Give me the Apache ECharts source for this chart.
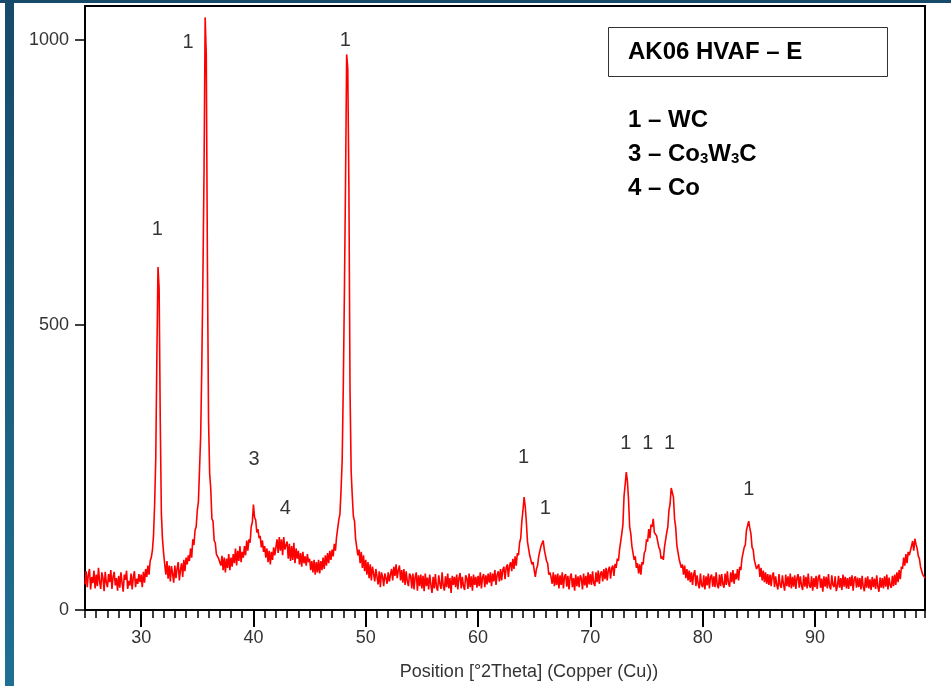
<!DOCTYPE html>
<html>
<head>
<meta charset="utf-8">
<title>AK06 HVAF – E</title>
<script src="https://cdn.jsdelivr.net/npm/echarts@6/dist/echarts.min.js"></script>
<style>
  html, body { margin: 0; padding: 0; background: #fff; }
  #chart { width: 951px; height: 686px; }
</style>
</head>
<body>
<div id="chart"></div>
<script>
// scan: 25.0 .. 99.8 °2θ, step 0.1
const scanStart = 25.0;
const scanStep = 0.1;

// counts, one row per degree
const counts = [
  45, 68, 40, 63, 72, 36, 58, 47, 69, 38,          // 25
  62, 42, 74, 50, 37, 66, 56, 33, 67, 48,          // 26
  40, 63, 49, 70, 37, 58, 67, 43, 56, 34,          // 27
  60, 39, 66, 48, 32, 62, 53, 69, 37, 51,          // 28
  43, 64, 36, 58, 68, 40, 55, 46, 63, 49,          // 29
  62, 40, 67, 48, 72, 58, 78, 62, 86, 92,          // 30
  104, 130, 185, 265, 445, 602, 565, 335, 170, 124, // 31
  100, 80, 62, 86, 55, 78, 50, 77, 64, 48,         // 32
  78, 56, 72, 84, 52, 70, 82, 58, 88, 68,          // 33
  92, 80, 96, 86, 108, 92, 124, 114, 140, 146,     // 34
  175, 190, 248, 305, 428, 585, 770, 1040, 972, 612, // 35
  335, 240, 212, 160, 156, 122, 118, 98, 100, 90,  // 36
  90, 78, 95, 70, 92, 66, 90, 74, 98, 70,          // 37
  92, 76, 98, 82, 108, 78, 104, 86, 112, 84,       // 38
  102, 92, 112, 96, 122, 104, 124, 118, 146, 154,  // 39
  185, 162, 158, 136, 142, 126, 130, 110, 122, 102, // 40
  112, 92, 108, 84, 104, 80, 102, 88, 110, 96,     // 41
  98, 124, 100, 128, 104, 124, 96, 128, 106, 114,  // 42
  120, 90, 116, 86, 112, 88, 118, 82, 108, 90,     // 43
  104, 80, 100, 76, 102, 82, 94, 78, 98, 84,       // 44
  90, 70, 86, 66, 88, 62, 84, 66, 88, 64,          // 45
  86, 70, 92, 72, 96, 78, 100, 82, 104, 88,        // 46
  106, 94, 116, 104, 128, 128, 158, 168, 210, 262, // 47
  392, 558, 752, 975, 950, 740, 385, 244, 200, 164, // 48
  156, 124, 124, 96, 106, 82, 102, 74, 96, 68,     // 49
  88, 62, 84, 56, 80, 52, 76, 64, 50, 72,          // 50
  70, 45, 68, 40, 66, 58, 42, 64, 56, 46,          // 51
  66, 50, 62, 72, 52, 76, 60, 80, 56, 70,          // 52
  78, 52, 70, 48, 72, 44, 68, 50, 42, 64,          // 53
  60, 38, 64, 36, 58, 66, 34, 61, 42, 62,          // 54
  38, 60, 33, 64, 42, 57, 36, 62, 44, 30,          // 55
  58, 38, 63, 40, 34, 61, 46, 37, 66, 42,          // 56
  34, 59, 40, 64, 38, 56, 30, 60, 44, 58,          // 57
  40, 62, 36, 56, 65, 38, 58, 42, 35, 61,          // 58
  56, 37, 64, 40, 59, 34, 62, 44, 58, 39,          // 59
  60, 42, 66, 38, 58, 63, 40, 61, 45, 64,          // 60
  48, 66, 42, 64, 50, 70, 44, 62, 68, 50,          // 61
  72, 52, 70, 76, 54, 74, 80, 58, 78, 84,          // 62
  68, 90, 72, 94, 78, 100, 96, 118, 126, 156,      // 63
  175, 198, 182, 155, 120, 118, 96, 98, 80, 84,    // 64
  70, 58, 72, 78, 94, 94, 112, 110, 122, 106,      // 65
  106, 86, 82, 62, 66, 58, 46, 66, 42, 62,         // 66
  44, 64, 38, 61, 44, 66, 38, 59, 63, 41,          // 67
  60, 36, 58, 64, 40, 56, 34, 62, 42, 59,          // 68
  40, 61, 56, 36, 64, 43, 60, 39, 66, 45,          // 69
  63, 44, 68, 47, 42, 66, 49, 69, 46, 64,          // 70
  68, 50, 72, 54, 74, 52, 70, 76, 55, 73,          // 71
  78, 60, 81, 74, 90, 86, 106, 106, 134, 150,      // 72
  200, 220, 242, 226, 194, 146, 134, 112, 110, 88, // 73
  94, 74, 82, 64, 80, 62, 84, 80, 100, 104,        // 74
  124, 120, 142, 126, 150, 146, 160, 136, 138, 130, // 75
  130, 110, 106, 90, 94, 88, 110, 112, 136, 146,   // 76
  175, 186, 214, 212, 198, 160, 145, 114, 112, 90, // 77
  92, 74, 80, 62, 78, 56, 72, 52, 69, 49,          // 78
  66, 44, 63, 70, 42, 61, 46, 38, 64, 44,          // 79
  40, 61, 36, 59, 43, 64, 38, 58, 62, 41,          // 80
  59, 40, 66, 44, 38, 62, 42, 63, 45, 39,          // 81
  64, 44, 68, 47, 41, 66, 49, 70, 46, 64,          // 82
  54, 72, 52, 76, 70, 90, 88, 110, 114, 140,       // 83
  142, 156, 144, 134, 110, 106, 88, 90, 72, 76,    // 84
  80, 58, 74, 52, 69, 49, 66, 46, 63, 44,          // 85
  62, 42, 60, 66, 40, 59, 44, 36, 63, 43,          // 86
  39, 61, 45, 34, 62, 42, 59, 40, 64, 38,          // 87
  58, 41, 61, 37, 56, 63, 39, 59, 43, 35,          // 88
  61, 41, 58, 38, 64, 43, 39, 59, 34, 56,          // 89
  40, 60, 37, 57, 62, 39, 55, 32, 59, 41,          // 90
  58, 38, 63, 42, 36, 61, 44, 40, 59, 33,          // 91
  42, 60, 39, 56, 35, 62, 41, 58, 38, 56,          // 92
  37, 58, 42, 61, 34, 55, 59, 39, 57, 40,          // 93
  56, 36, 60, 41, 33, 57, 39, 59, 38, 54,          // 94
  35, 58, 40, 55, 37, 61, 41, 32, 57, 39,          // 95
  56, 38, 59, 41, 62, 36, 57, 43, 39, 60,          // 96
  42, 62, 44, 66, 49, 70, 54, 76, 72, 92,          // 97
  78, 98, 82, 102, 96, 104, 102, 121, 104, 125,    // 98
  115, 108, 95, 90, 76, 76, 62, 64, 56             // 99
];

// axis ticks
const xMajorTicks = [30, 40, 50, 60, 70, 80, 90];
const yTicks = [0, 500, 1000];

// phase markers above the peaks
const peakLabelX = [31.45, 34.18, 48.17, 40.06, 42.83, 64.05, 66.0, 73.15, 75.12, 77.05, 84.12];
const peakLabelY = [667, 996, 1000, 265, 179, 267, 179, 293, 293, 293, 211];
const peakLabelText = ['1', '1', '1', '3', '4', '1', '1', '1', '1', '1', '1'];

const fontFamily = '"Liberation Sans", Arial, sans-serif';

const points = counts.map((c, i) => [+(scanStart + i * scanStep).toFixed(1), c]);

const chart = echarts.init(document.getElementById('chart'));

const option = {
  animation: false,
  textStyle: { fontFamily: fontFamily },
  grid: {
    left: 85,
    right: 26,
    top: 6,
    bottom: 75,
    show: true,
    borderColor: '#000',
    borderWidth: 2
  },
  xAxis: [
    {
      type: 'value',
      min: 25,
      max: 99.8,
      interval: 1,
      position: 'bottom',
      axisLine: { lineStyle: { color: '#000', width: 2 } },
      axisTick: { length: 8, lineStyle: { color: '#000', width: 1.5 } },
      axisLabel: { show: false },
      splitLine: { show: false }
    },
    {
      type: 'value',
      min: 25,
      max: 99.8,
      position: 'bottom',
      axisLine: { show: false },
      axisTick: {
        show: true,
        customValues: xMajorTicks,
        length: 17,
        lineStyle: { color: '#000', width: 2 }
      },
      axisLabel: {
        customValues: xMajorTicks,
        margin: 19,
        fontSize: 18,
        color: '#333',
        fontFamily: fontFamily
      },
      splitLine: { show: false },
      name: 'Position [°2Theta] (Copper (Cu))',
      nameLocation: 'middle',
      nameGap: 53,
      nameTextStyle: {
        fontSize: 18,
        color: '#333',
        fontFamily: fontFamily,
        padding: [0, 0, 0, 48]
      }
    }
  ],
  yAxis: {
    type: 'value',
    min: 0,
    max: 1060,
    axisLine: { show: true, lineStyle: { color: '#000', width: 2 } },
    axisTick: {
      show: true,
      customValues: yTicks,
      length: 10,
      lineStyle: { color: '#000', width: 1.5 }
    },
    axisLabel: {
      customValues: yTicks,
      formatter: (v) => String(v),
      margin: 16,
      fontSize: 18,
      color: '#333',
      fontFamily: fontFamily
    },
    splitLine: { show: false }
  },
  series: [
    {
      type: 'line',
      xAxisIndex: 0,
      data: points,
      showSymbol: false,
      sampling: null,
      silent: true,
      lineStyle: { color: '#ff0000', width: 1.6 }
    },
    {
      type: 'scatter',
      xAxisIndex: 0,
      silent: true,
      symbolSize: 1,
      itemStyle: { color: 'rgba(0,0,0,0)' },
      label: {
        show: true,
        position: 'inside',
        formatter: '{b}',
        fontSize: 20,
        color: '#000',
        fontFamily: fontFamily
      },
      data: peakLabelX.map((x, i) => ({ name: peakLabelText[i], value: [x, peakLabelY[i]] }))
    }
  ],
  graphic: [
    // slide frame
    { type: 'rect', shape: { x: 0, y: 0, width: 951, height: 3 }, style: { fill: '#164a6a' }, silent: true },
    {
      type: 'rect',
      shape: { x: 5, y: 0, width: 9, height: 686 },
      style: {
        fill: new echarts.graphic.LinearGradient(0, 0, 0, 1, [
          { offset: 0, color: '#164a6a' },
          { offset: 1, color: '#1e7093' }
        ])
      },
      silent: true
    },
    // sample name box
    {
      type: 'rect',
      shape: { x: 608.5, y: 27.5, width: 279, height: 49 },
      style: { fill: '#fff', stroke: '#333', lineWidth: 1 },
      z: 10
    },
    {
      type: 'text',
      x: 628,
      y: 52,
      z: 11,
      style: {
        text: 'AK06 HVAF – E',
        fontSize: 24,
        fontWeight: 'bold',
        fontFamily: fontFamily,
        fill: '#000',
        verticalAlign: 'middle'
      }
    },
    // phase legend
    {
      type: 'text',
      x: 628,
      y: 103,
      z: 11,
      style: {
        text: '1 – WC\n3 – Co{s|3}W{s|3}C\n4 – Co',
        fontSize: 24,
        fontWeight: 'bold',
        fontFamily: fontFamily,
        fill: '#000',
        lineHeight: 34,
        rich: {
          s: {
            fontSize: 15,
            fontWeight: 'bold',
            fontFamily: fontFamily,
            fill: '#000',
            padding: [10, 0, 0, 0]
          }
        }
      }
    }
  ]
};

chart.setOption(option);
</script>
</body>
</html>
